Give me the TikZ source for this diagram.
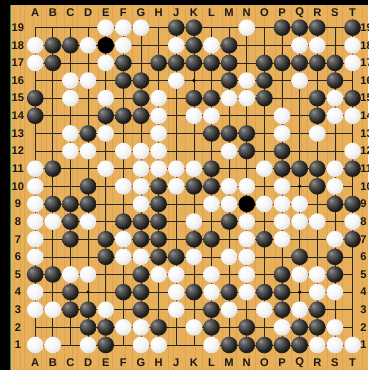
\documentclass[tikz,border=0pt]{standalone}
\usepackage{fontspec}
\setmainfont{Liberation Sans}

\definecolor{boardwood}{RGB}{232,176,90}
\definecolor{woodgrain}{RGB}{205,150,70}
\definecolor{boardedge}{RGB}{40,150,70}
\pgfdeclareradialshading{blackstone}{\pgfpoint{-12bp}{12bp}}{color(0bp)=(black!42); color(8bp)=(black!60); color(26bp)=(black!88); color(68bp)=(black)}
\pgfdeclareradialshading{whitestone}{\pgfpoint{-12bp}{12bp}}{color(0bp)=(white); color(18bp)=(white!97!black); color(38bp)=(white!86!black); color(56bp)=(white!68!black); color(68bp)=(white!58!black)}

\begin{document}
\begin{tikzpicture}[x=0.5cm, y=0.5cm,
        gridline/.style={line width=0.55pt, black!85, line cap=rect},
        grain/.style={woodgrain, line width=0.35pt, opacity=0.45},
        hoshi/.style={circle, fill=black, inner sep=0pt, minimum size=2.8pt},
        bstone/.style={circle, inner sep=0pt, minimum size=0.47cm, shade, shading=blackstone},
        wstone/.style={circle, inner sep=0pt, minimum size=0.47cm, shade, shading=whitestone},
        mstone/.style={circle, inner sep=0pt, minimum size=0.47cm, fill=black},
        coordlabel/.style={font=\fontsize{9}{9}\selectfont\bfseries, text=black!90, inner sep=0pt}
    ]
    \useasboundingbox (-0.997,-0.418) rectangle (19.877,20.569);
    \clip (-0.997,-0.418) rectangle (19.877,20.569);
    \fill[boardwood] (-0.997,-0.418) rectangle (19.877,20.569);
    \foreach \g in {-0.2,0.15,0.4,0.9,1.35,1.6,2.2,2.65,3.1,3.4,4.05,4.6,5.0,5.35,6.1,6.5,7.05,7.4,
        8.0,8.55,8.85,9.5,10.1,10.45,11.0,11.6,12.05,12.4,13.1,13.5,14.0,14.6,14.95,15.5,16.1,
        16.45,17.0,17.55,18.05,18.4,19.0,19.55}
        \draw[grain] (\g,-0.418) -- (\g,20.569);
    \fill[black] (-0.997,-0.418) rectangle (-0.43,20.569);
    \fill[boardedge] (-0.43,-0.418) rectangle (-0.38,20.29);
    \fill[black] (-0.997,20.29) rectangle (19.877,20.569);

    \foreach \c [count=\i] in {A,B,C,D,E,F,G,H,J,K,L,M,N,O,P,Q,R,S,T} {
        \foreach \r in {1,...,19} \coordinate (\c\r) at (\i,\r);
    }

    \foreach \r in {1,...,19} \draw[gridline] (A\r) -- (T\r);
    \foreach \c in {A,B,C,D,E,F,G,H,J,K,L,M,N,O,P,Q,R,S,T} \draw[gridline] (\c1) -- (\c19);
    \foreach \p in {D4,K4,Q4,D10,K10,Q10,D16,K16,Q16} \node[hoshi] (h\p) at (\p) {};

    \foreach \p in {J19,K19,P19,Q19,R19,T19, B18,C18,K18,M18,
        B17,F17,H17,J17,K17,L17,M17,O17,P17,Q17,R17,S17, F16,G16,M16,O16,S16,
        A15,G15,K15,L15,O15,R15,T15, A14,E14,F14,G14,R14, D13,L13,M13,N13, N12,P12,
        B11,L11,P11,Q11,R11,T11, D10,H10,K10,L10,R10, B9,C9,D9,H9,S9,T9,
        C8,F8,G8,H8,M8, C7,E7,G7,H7,K7,L7,O7,T7, E6,H6,J6,Q6,S6, A5,B5,G5,P5,S5,
        C4,F4,G4,K4,M4,O4,P4, C3,D3,G3,L3,P3,R3, D2,E2,H2,L2,N2,Q2,R2, E1,M1,N1,O1,P1,Q1}
        \node[bstone] (b\p) at (\p) {};
    \foreach \p in {E18,N9} \node[mstone] (m\p) at (\p) {};
    \foreach \p in {E19,F19,G19,N19, A18,D18,F18,J18,L18,Q18,R18,T18, A17,E17,T17,
        C16,D16,J16,N16,Q16, C15,E15,H15,M15,N15,S15, H14,K14,L14,P14,S14,T14,
        C13,E13,H13,P13,R13, C12,D12,F12,G12,H12,M12,T12, A11,E11,G11,H11,J11,K11,O11,S11,
        A10,F10,G10,J10,M10,N10,P10,S10, A9,G9,L9,M9,O9,P9,Q9, A8,B8,D8,K8,N8,P8,Q8,R8,T8,
        A7,F7,N7,P7,S7, A6,F6,G6,K6,M6,N6, C5,D5,H5,J5,L5,N5,Q5,R5, A4,J4,L4,N4,R4,S4,
        A3,B3,E3,J3,M3,O3,Q3, F2,G2,K2,P2,S2, A1,B1,D1,G1,H1,L1,R1,S1,T1}
        \node[wstone] (w\p) at (\p) {};

    \foreach \c [count=\i] in {A,B,C,D,E,F,G,H,J,K,L,M,N,O,P,Q,R,S,T} {
        \node[coordlabel] (top\c) at (\i,19.83) {\c};
        \node[coordlabel] (bot\c) at (\i,0) {\c};
    }
    \foreach \r in {1,...,19} {
        \node[coordlabel] (left\r) at (0.02,\r) {\r};
        \node[coordlabel, anchor=west] (right\r) at (19.43,\r) {\r};
    }
\end{tikzpicture}
\end{document}
